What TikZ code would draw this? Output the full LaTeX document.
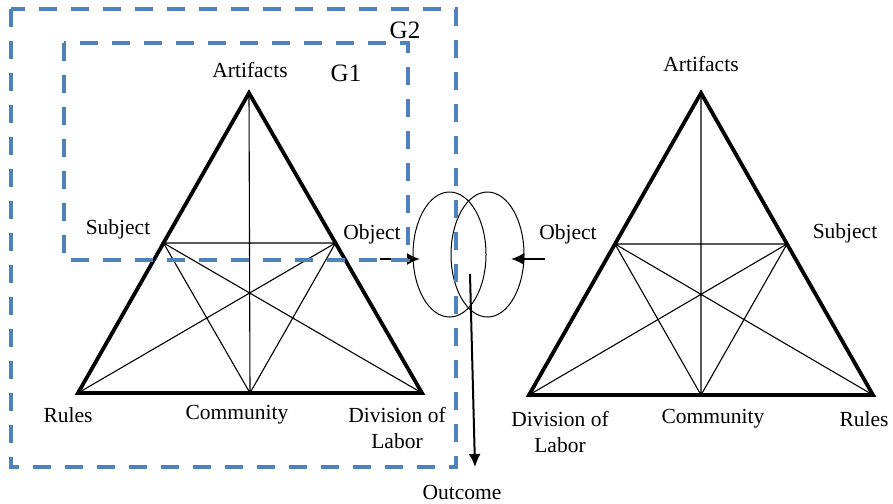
\documentclass[tikz,border=0pt]{standalone}
\usepackage{fontspec}
\setmainfont{Liberation Serif}
\usetikzlibrary{arrows.meta,shapes.geometric,calc}
\definecolor{grpblue}{RGB}{79,129,189}

\begin{document}
\begin{tikzpicture}[x=1pt,y=-1pt,
  font=\fontsize{21.5}{26}\selectfont,
  side/.style={line width=3.8pt,line join=miter},
  inner/.style={line width=1.1pt},
  grp/.style={draw=grpblue,line width=3.8pt,dash pattern=on 18pt off 14pt},
  lbl/.style={inner sep=0pt,align=center},
  glbl/.style={inner sep=0pt,font=\fontsize{25}{28}\selectfont},
  arr/.style={-{Latex[length=13pt,width=12pt]},line width=2pt},
  loop/.style={draw,ellipse,line width=1pt,minimum width=73pt,minimum height=125pt,inner sep=0pt}
]
\useasboundingbox (0,0) rectangle (893,503);
% left triangle
\coordinate (la) at (249,93);
\coordinate (ll) at (78,393);
\coordinate (lr) at (422,393);
\coordinate (lc) at ($(ll)!0.5!(lr)$);
\coordinate (ls) at ($(la)!0.5!(ll)$);
\coordinate (lo) at ($(la)!0.5!(lr)$);
\draw[inner] (ls)--(lo) (la)--(lc) (ls)--(lc) (lo)--(lc) (ls)--(lr) (lo)--(ll);
\draw[side] (la)--(ll)--(lr)--cycle;
% right triangle
\coordinate (ra) at (701,93);
\coordinate (rl) at (529,395);
\coordinate (rr) at (873,395);
\coordinate (rc) at ($(rl)!0.5!(rr)$);
\coordinate (ro) at ($(ra)!0.5!(rl)$);
\coordinate (rs) at ($(ra)!0.5!(rr)$);
\draw[inner] (ro)--(rs) (ra)--(rc) (ro)--(rc) (rs)--(rc) (ro)--(rr) (rs)--(rl);
\draw[side] (ra)--(rl)--(rr)--cycle;
% labels
\node[lbl] (lart) at (250,70) {Artifacts};
\node[lbl] (lsub) at (118,229) {Subject};
\node[lbl] (lobj) at (372,234) {Object};
\node[lbl] (lrul) at (68,415) {Rules};
\node[lbl] (lcom) at (237,415) {Community};
\node[lbl] (ldiv) at (397,428) {Division of\\Labor};
\node[lbl] (rart) at (701,64) {Artifacts};
\node[lbl] (robj) at (568,234) {Object};
\node[lbl] (rsub) at (845,233) {Subject};
\node[lbl] (rdiv) at (560,432) {Division of\\Labor};
\node[lbl] (rcom) at (713,419) {Community};
\node[lbl] (rrul) at (864,419) {Rules};
\node[lbl] (outc) at (462,492) {Outcome};
\node[glbl] (g1lbl) at (346,73) {G1};
\node[glbl] (g2lbl) at (405,30) {G2};
% shared outcome
\node[loop] (loopl) at (449.5,254.5) {};
\node[loop] (loopr) at (487.5,254.5) {};
\coordinate (inl) at (380,259);
\coordinate (inlend) at (420,259);
\coordinate (inr) at (545,259);
\coordinate (inrend) at (511,259);
\coordinate (outs) at (470,274);
\coordinate (oute) at (475,467);
\draw[arr] (inl)--(inlend);
\draw[arr] (inr)--(inrend);
\draw[arr] (outs)--(oute);
% groups
\draw[grp] (64,43) rectangle (408,260);
\draw[grp] (11,9) rectangle (456,467);
\end{tikzpicture}
\end{document}
